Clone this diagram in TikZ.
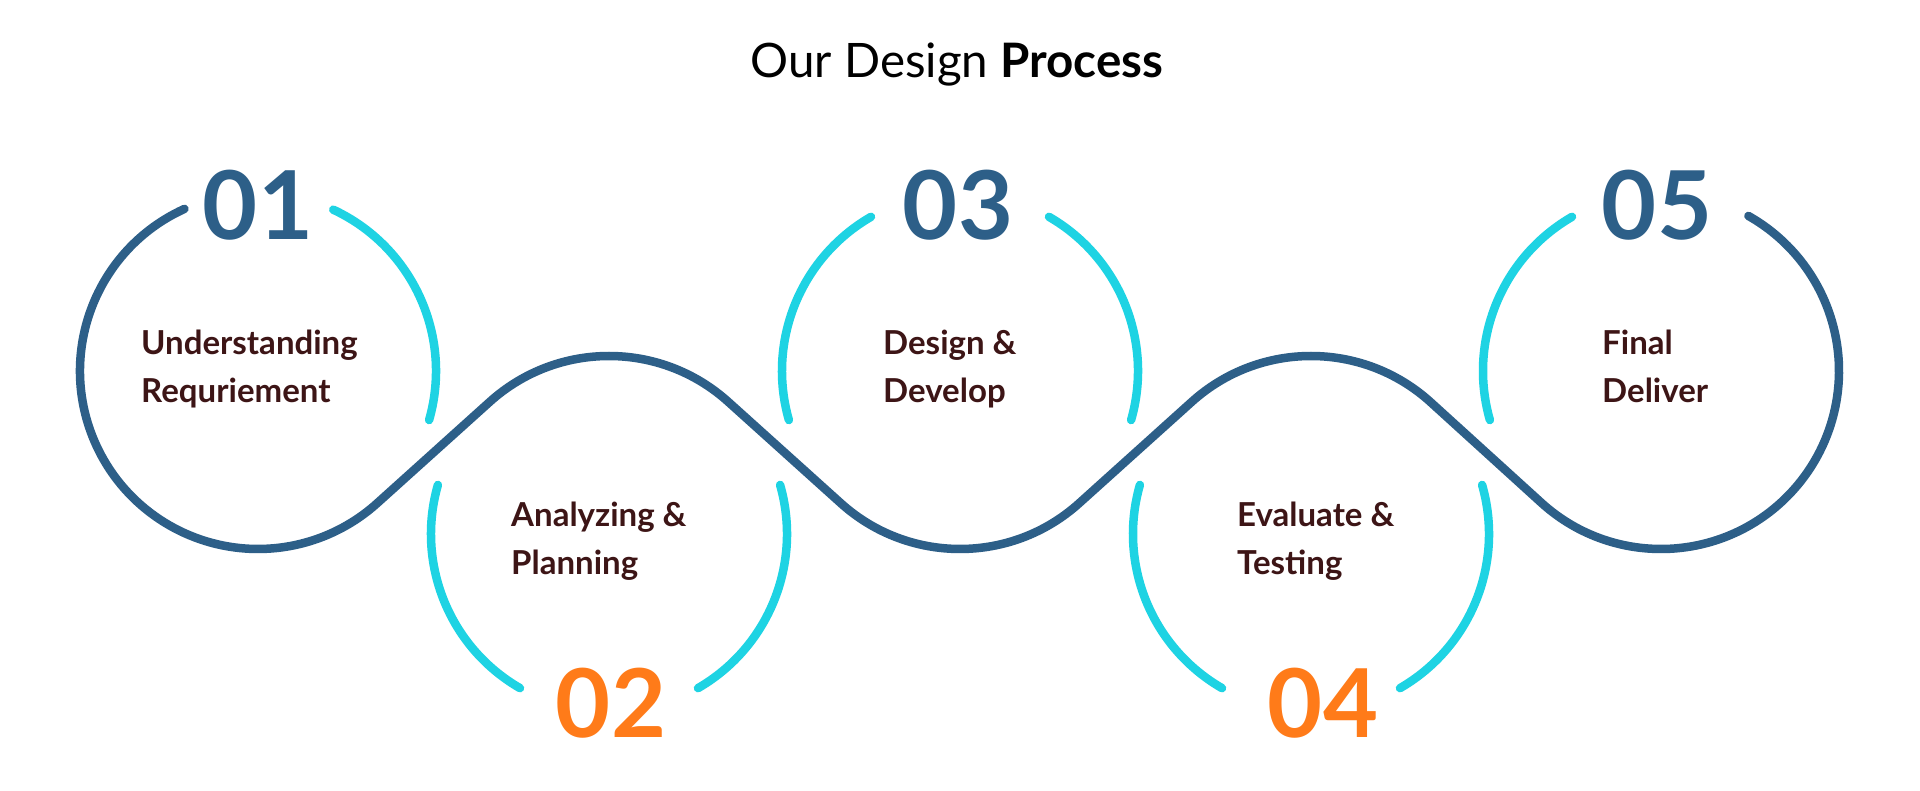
\documentclass[tikz,border=0pt]{standalone}
\usepackage{fontspec}
\setmainfont{Lato}
\usetikzlibrary{calc}
\definecolor{dblue}{HTML}{2D5F88}
\definecolor{cyanc}{HTML}{1ED3E3}
\definecolor{orangec}{HTML}{FF7B19}
\definecolor{textc}{HTML}{3D1516}
\begin{document}
\begin{tikzpicture}[x=1pt,y=1pt,
  wave/.style={draw=dblue,line width=8.5pt,line cap=round,line join=round},
  arcline/.style={draw=cyanc,line width=8.5pt,line cap=round},
  numtop/.style={text=dblue,font=\fontsize{95}{95}\selectfont\bfseries,inner sep=0,anchor=base},
  numbot/.style={text=orangec,font=\fontsize{95}{95}\selectfont\bfseries,inner sep=0,anchor=base},
  steptext/.style={text=textc,font=\fontsize{33}{40}\selectfont\bfseries,inner sep=0,anchor=base west},
  titletext/.style={text=black,font=\fontsize{47.5}{50}\selectfont,inner sep=0,anchor=base}
]
\fill[white] (0,0) rectangle (1920,791);
\useasboundingbox (0,0) rectangle (1920,791);
\def\R{178}
\coordinate (c1) at (258,420);
\coordinate (c2) at (609,257);
\coordinate (c3) at (960,420);
\coordinate (c4) at (1311,257);
\coordinate (c5) at (1661,420);

% title
\node[titletext] (title) at (957,713) {Our Design \textbf{Process}};

% dark wave
\draw[wave] ($(c1)+(114.4:\R)$) arc[start angle=114.4,end angle=312,radius=\R]
  -- ($(c2)+(132:\R)$) arc[start angle=132,end angle=48,radius=\R]
  -- ($(c3)+(228:\R)$) arc[start angle=228,end angle=312,radius=\R]
  -- ($(c4)+(132:\R)$) arc[start angle=132,end angle=48,radius=\R]
  -- ($(c5)+(228:\R)$) arc[start angle=228,end angle=420.6,radius=\R];

% cyan arcs
\draw[arcline] ($(c1)+(65:\R)$) arc[start angle=65,end angle=-16,radius=\R];
\draw[arcline] ($(c3)+(120:\R)$) arc[start angle=120,end angle=196,radius=\R];
\draw[arcline] ($(c3)+(60:\R)$) arc[start angle=60,end angle=-16,radius=\R];
\draw[arcline] ($(c5)+(120:\R)$) arc[start angle=120,end angle=196,radius=\R];
\draw[arcline] ($(c2)+(164:\R)$) arc[start angle=164,end angle=240,radius=\R];
\draw[arcline] ($(c2)+(16:\R)$) arc[start angle=16,end angle=-60,radius=\R];
\draw[arcline] ($(c4)+(164:\R)$) arc[start angle=164,end angle=240,radius=\R];
\draw[arcline] ($(c4)+(16:\R)$) arc[start angle=16,end angle=-60,radius=\R];

% numbers
\node[numtop] (n1) at (258,551) {01};
\node[numbot] (n2) at (611,53) {02};
\node[numtop] (n3) at (958,551) {03};
\node[numbot] (n4) at (1323,53) {04};
\node[numtop] (n5) at (1657,551) {05};

% labels
\node[steptext] (t1a) at (141,436) {Understanding};
\node[steptext] (t1b) at (141,388) {Requriement};
\node[steptext] (t2a) at (511,264) {Analyzing \&};
\node[steptext] (t2b) at (511,216) {Planning};
\node[steptext] (t3a) at (883,436) {Design \&};
\node[steptext] (t3b) at (883,388) {Develop};
\node[steptext] (t4a) at (1237,264) {Evaluate \&};
\node[steptext] (t4b) at (1237,216) {Testing};
\node[steptext] (t5a) at (1602,436) {Final};
\node[steptext] (t5b) at (1602,388) {Deliver};
\end{tikzpicture}
\end{document}
